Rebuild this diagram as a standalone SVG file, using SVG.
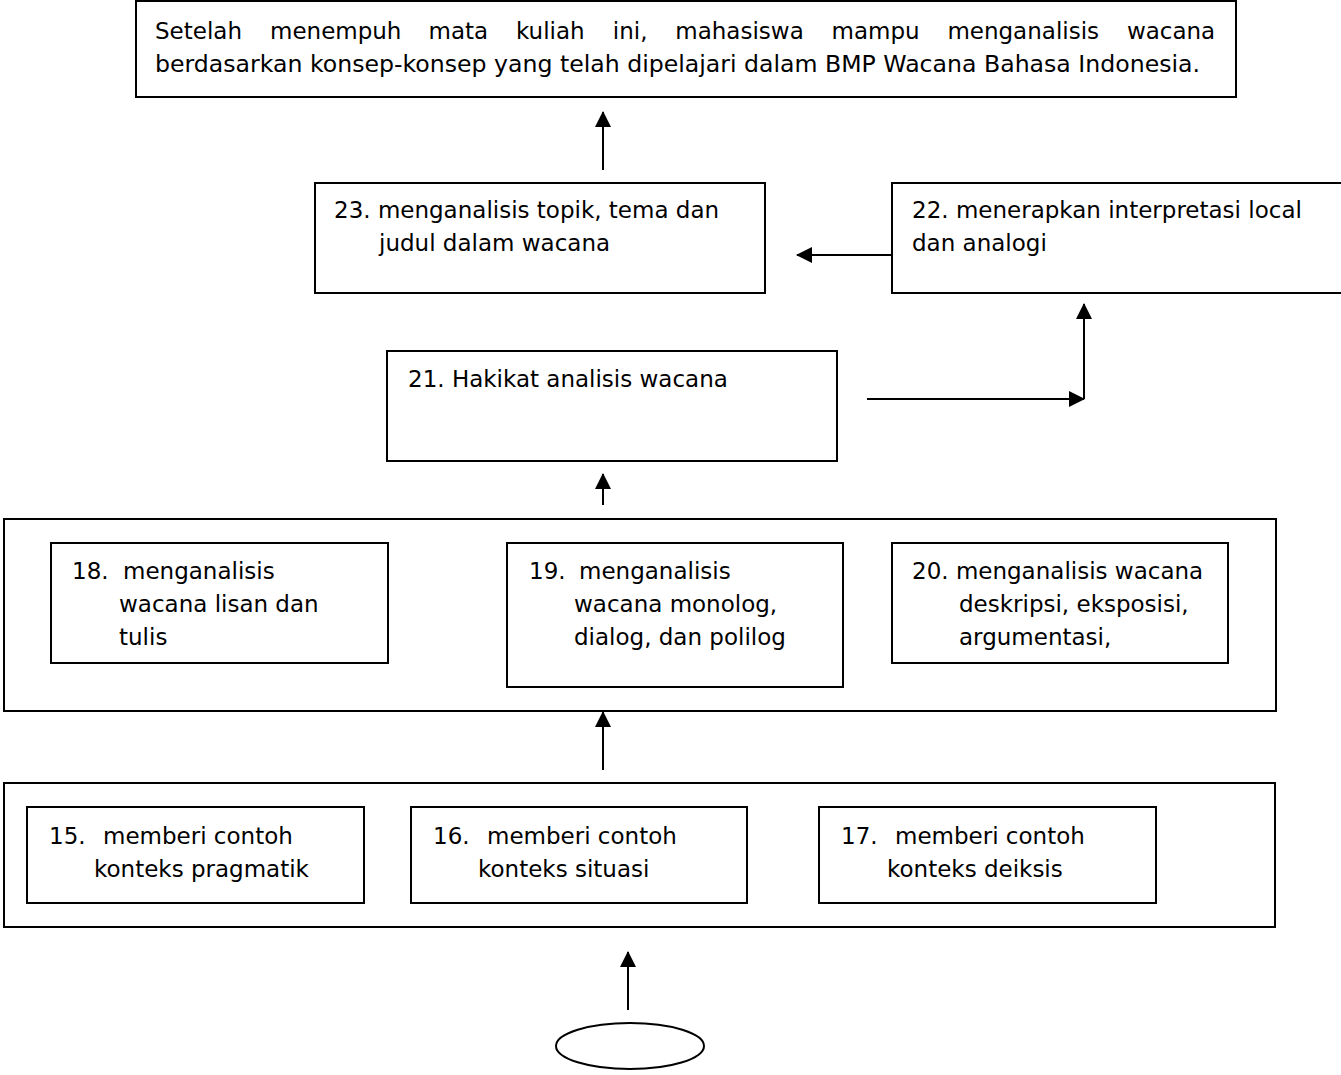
<svg xmlns="http://www.w3.org/2000/svg" width="1341" height="1075" viewBox="0 0 1341 1075">
<defs>
<style>
.box{fill:#fff;stroke:#000;stroke-width:2}
.t{font-family:"DejaVu Sans","Verdana",sans-serif;font-size:23px;fill:#000}
.c{stroke:#000;stroke-width:2;fill:none;marker-end:url(#ah)}
</style>
<marker id="ah" viewBox="0 0 16 16" refX="15" refY="8" markerWidth="16" markerHeight="16" markerUnits="userSpaceOnUse" orient="auto">
<path d="M0,0 L16,8 L0,16 z" fill="#000"/>
</marker>
</defs>
<rect width="1341" height="1075" fill="#fff"/>

<g id="goal">
<rect class="box" x="136" y="1" width="1100" height="96"/>
<text class="t" y="39"><tspan x="155">Setelah</tspan><tspan x="270">menempuh</tspan><tspan x="428.6">mata</tspan><tspan x="516">kuliah</tspan><tspan x="612.8">ini,</tspan><tspan x="675.3">mahasiswa</tspan><tspan x="831.6">mampu</tspan><tspan x="947.4">menganalisis</tspan><tspan x="1126.9">wacana</tspan></text>
<text class="t" x="155" y="72" textLength="1045" lengthAdjust="spacingAndGlyphs">berdasarkan konsep-konsep yang telah dipelajari dalam BMP Wacana Bahasa Indonesia.</text>
</g>

<g id="n23">
<rect class="box" x="315" y="183" width="450" height="110"/>
<text class="t" x="334" y="218">23. menganalisis topik, tema dan</text>
<text class="t" x="379" y="251">judul dalam wacana</text>
</g>

<g id="n22">
<rect class="box" x="892" y="183" width="460" height="110"/>
<text class="t" x="912" y="218">22. menerapkan interpretasi local</text>
<text class="t" x="912" y="251">dan analogi</text>
</g>

<g id="n21">
<rect class="box" x="387" y="351" width="450" height="110"/>
<text class="t" x="408" y="387">21. Hakikat analisis wacana</text>
</g>

<g id="group18-20">
<rect class="box" x="4" y="519" width="1272" height="192"/>
</g>

<g id="n18">
<rect class="box" x="51" y="543" width="337" height="120"/>
<text class="t" x="72" y="579">18.</text>
<text class="t" x="123" y="579">menganalisis</text>
<text class="t" x="119" y="612">wacana lisan dan</text>
<text class="t" x="119" y="645">tulis</text>
</g>

<g id="n19">
<rect class="box" x="507" y="543" width="336" height="144"/>
<text class="t" x="529" y="579">19.</text>
<text class="t" x="579" y="579">menganalisis</text>
<text class="t" x="574" y="612">wacana monolog,</text>
<text class="t" x="574" y="645">dialog, dan polilog</text>
</g>

<g id="n20">
<rect class="box" x="892" y="543" width="336" height="120"/>
<text class="t" x="912" y="579">20. menganalisis wacana</text>
<text class="t" x="959" y="612">deskripsi, eksposisi,</text>
<text class="t" x="959" y="645">argumentasi,</text>
</g>

<g id="group15-17">
<rect class="box" x="4" y="783" width="1271" height="144"/>
</g>

<g id="n15">
<rect class="box" x="27" y="807" width="337" height="96"/>
<text class="t" x="49" y="844">15.</text>
<text class="t" x="103" y="844">memberi contoh</text>
<text class="t" x="94" y="877">konteks pragmatik</text>
</g>

<g id="n16">
<rect class="box" x="411" y="807" width="336" height="96"/>
<text class="t" x="433" y="844">16.</text>
<text class="t" x="487" y="844">memberi contoh</text>
<text class="t" x="478" y="877">konteks situasi</text>
</g>

<g id="n17">
<rect class="box" x="819" y="807" width="337" height="96"/>
<text class="t" x="841" y="844">17.</text>
<text class="t" x="895" y="844">memberi contoh</text>
<text class="t" x="887" y="877">konteks deiksis</text>
</g>

<g id="start">
<ellipse cx="630" cy="1046" rx="74" ry="23" fill="#fff" stroke="#000" stroke-width="2"/>
</g>

<g id="connectors">
<line class="c" x1="603" y1="170" x2="603" y2="112"/>
<line class="c" x1="891" y1="255" x2="797" y2="255"/>
<line class="c" x1="867" y1="399" x2="1084" y2="399"/>
<line class="c" x1="1084" y1="399" x2="1084" y2="304"/>
<line class="c" x1="603" y1="505" x2="603" y2="474"/>
<line class="c" x1="603" y1="770" x2="603" y2="712"/>
<line class="c" x1="628" y1="1010" x2="628" y2="952"/>
</g>
</svg>
